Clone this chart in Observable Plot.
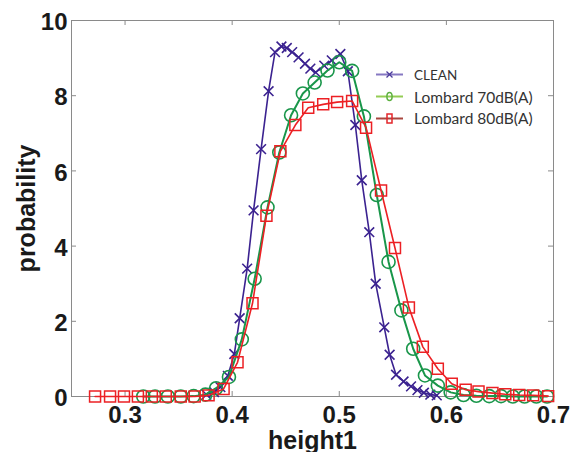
<!DOCTYPE html>
<html><head><meta charset="utf-8">
<script src="https://cdn.jsdelivr.net/npm/d3@7"></script>
<script src="https://cdn.jsdelivr.net/npm/@observablehq/plot@0.6"></script>
<style>
html,body{margin:0;padding:0;background:#fff;}
#wrap{position:relative;width:574px;height:452px;overflow:hidden;}
#legend{position:absolute;left:376px;top:64px;font-family:Lato,"Open Sans",sans-serif;color:#333;}
.row{display:flex;align-items:center;height:21.7px;white-space:nowrap;}
.row svg{margin-right:11px;}
</style></head><body><div id="wrap"></div>
<script>
const xTicks = [0.3, 0.4, 0.5, 0.6, 0.7];
const yTicks = [0, 2, 4, 6, 8, 10];
const seriesNames = ["CLEAN", "Lombard 70dB(A)", "Lombard 80dB(A)"];

const cleanX = [0.376,0.383,0.389,0.396,0.402,0.407,0.414,0.420,0.427,0.434,0.440,0.446,0.451,0.456,0.462,0.468,0.473,0.478,0.486,0.493,0.501,0.508,0.515,0.521,0.528,0.534,0.542,0.547,0.553,0.560,0.567,0.573,0.579,0.585,0.591];
const cleanY = [0.05,0.12,0.25,0.55,1.13,2.08,3.40,4.95,6.58,8.12,9.16,9.31,9.27,9.16,9.02,8.85,8.72,8.62,8.80,8.94,9.11,8.65,7.22,5.75,4.37,3.00,1.84,1.11,0.58,0.40,0.27,0.17,0.10,0.05,0.03];

const l70X = [0.317,0.328,0.340,0.352,0.364,0.375,0.385,0.397,0.409,0.421,0.433,0.444,0.455,0.466,0.477,0.489,0.500,0.512,0.523,0.535,0.546,0.558,0.569,0.580,0.592,0.604,0.616,0.628,0.640,0.651,0.662,0.673,0.684,0.694];
const l70Y = [0,0,0,0,0.01,0.05,0.22,0.52,1.52,3.13,5.03,6.49,7.48,8.06,8.35,8.67,8.89,8.66,7.45,5.36,3.58,2.29,1.27,0.56,0.29,0.11,0.04,0.02,0.01,0.01,0,0,0,0];

const l80X = [0.272,0.286,0.299,0.312,0.325,0.338,0.352,0.365,0.378,0.392,0.405,0.419,0.432,0.445,0.459,0.471,0.485,0.498,0.512,0.525,0.539,0.552,0.565,0.578,0.592,0.605,0.618,0.630,0.643,0.655,0.668,0.681,0.695];
const l80Y = [0,0,0,0,0,0,0,0,0.03,0.2,0.91,2.48,4.81,6.52,7.22,7.68,7.77,7.83,7.86,7.15,5.48,3.95,2.37,1.32,0.74,0.34,0.18,0.13,0.09,0.06,0.04,0.03,0.01];

const lineColors = ["#3b2290", "#19964a", "#ec2024"];
const legendLineColors = ["#8678c2", "#94cc55", "#a9463f"];

const toRows = (xs, ys) => xs.map((x, i) => ({x, y: ys[i]}));
const clean = toRows(cleanX, cleanY);
const l70 = toRows(l70X, l70Y);
const l80 = toRows(l80X, l80Y);

const W = 574, H = 452, mL = 71, mR = 21, mT = 20, mB = 56;
const pw = W - mL - mR, ph = H - mT - mB;
const grey = "#8a8a8a";

const chart = Plot.plot({
  width: W, height: H,
  marginLeft: mL, marginRight: mR, marginTop: mT, marginBottom: mB,
  x: {domain: [0.25, 0.7]},
  y: {domain: [0, 10]},
  style: {fontFamily: "'Liberation Sans', Arial, sans-serif", background: "white", color: "#1a1a1a"},
  marks: [
    Plot.frame({stroke: grey}),
    Plot.tickX(xTicks, {x: d => d, stroke: grey, insetTop: ph - 5}),
    Plot.tickX(xTicks, {x: d => d, stroke: grey, insetBottom: ph - 5}),
    Plot.tickY(yTicks, {y: d => d, stroke: grey, insetRight: pw - 5}),
    Plot.tickY(yTicks, {y: d => d, stroke: grey, insetLeft: pw - 5}),
    Plot.axisX(xTicks, {tickSize: 0, tickPadding: 9, fontSize: 24, fontWeight: "bold", tickFormat: d3.format(".1f"), label: null}),
    Plot.axisY(yTicks, {tickSize: 0, tickPadding: 4, fontSize: 24, fontWeight: "bold", tickFormat: d => String(d), label: null, dy: 2}),
    Plot.text(["height1"], {frameAnchor: "bottom", dy: 52, fontSize: 25, fontWeight: "bold", textAnchor: "middle"}),
    Plot.text(["probability"], {frameAnchor: "left", dx: -45, rotate: -90, fontSize: 25, fontWeight: "bold", textAnchor: "middle"}),
    Plot.line(clean, {x: "x", y: "y", stroke: lineColors[0], strokeWidth: 1.6}),
    Plot.dot(clean, {x: "x", y: "y", symbol: "times", r: 4.5, stroke: lineColors[0], strokeWidth: 1.6}),
    Plot.line(l70, {x: "x", y: "y", stroke: lineColors[1], strokeWidth: 2}),
    Plot.dot(l70, {x: "x", y: "y", symbol: "circle", r: 6.5, stroke: lineColors[1], strokeWidth: 1.6}),
    Plot.line(l80, {x: "x", y: "y", stroke: lineColors[2], strokeWidth: 1.6}),
    Plot.dot(l80, {x: "x", y: "y", symbol: "square", r: 6.2, stroke: lineColors[2], strokeWidth: 1.5})
  ]
});

const wrap = document.getElementById("wrap");
wrap.appendChild(chart);

const legend = document.createElement("div");
legend.id = "legend";
const markerSvg = [
  c => `<path d="M10.5,4.5 L16.5,10.5 M16.5,4.5 L10.5,10.5" stroke="${c}" stroke-width="1.3"/>`,
  c => `<ellipse cx="13.5" cy="7.5" rx="2.6" ry="4" fill="none" stroke="${c}" stroke-width="1.5"/>`,
  c => `<rect x="11" y="3" width="5" height="9" fill="none" stroke="${c}" stroke-width="1.5"/>`
];
const markerColors = ["#4b3a9b", "#5cb040", "#e3262b"];
seriesNames.forEach((name, i) => {
  const row = document.createElement("div");
  row.className = "row";
  row.innerHTML = `<svg width="27" height="15"><line x1="0" y1="7.5" x2="27" y2="7.5" stroke="${legendLineColors[i]}" stroke-width="2"/>${markerSvg[i](markerColors[i])}</svg><span style="font-size:${i === 0 ? 13.5 : 15.5}px">${name}</span>`;
  legend.appendChild(row);
});
wrap.appendChild(legend);
</script>
</body></html>
